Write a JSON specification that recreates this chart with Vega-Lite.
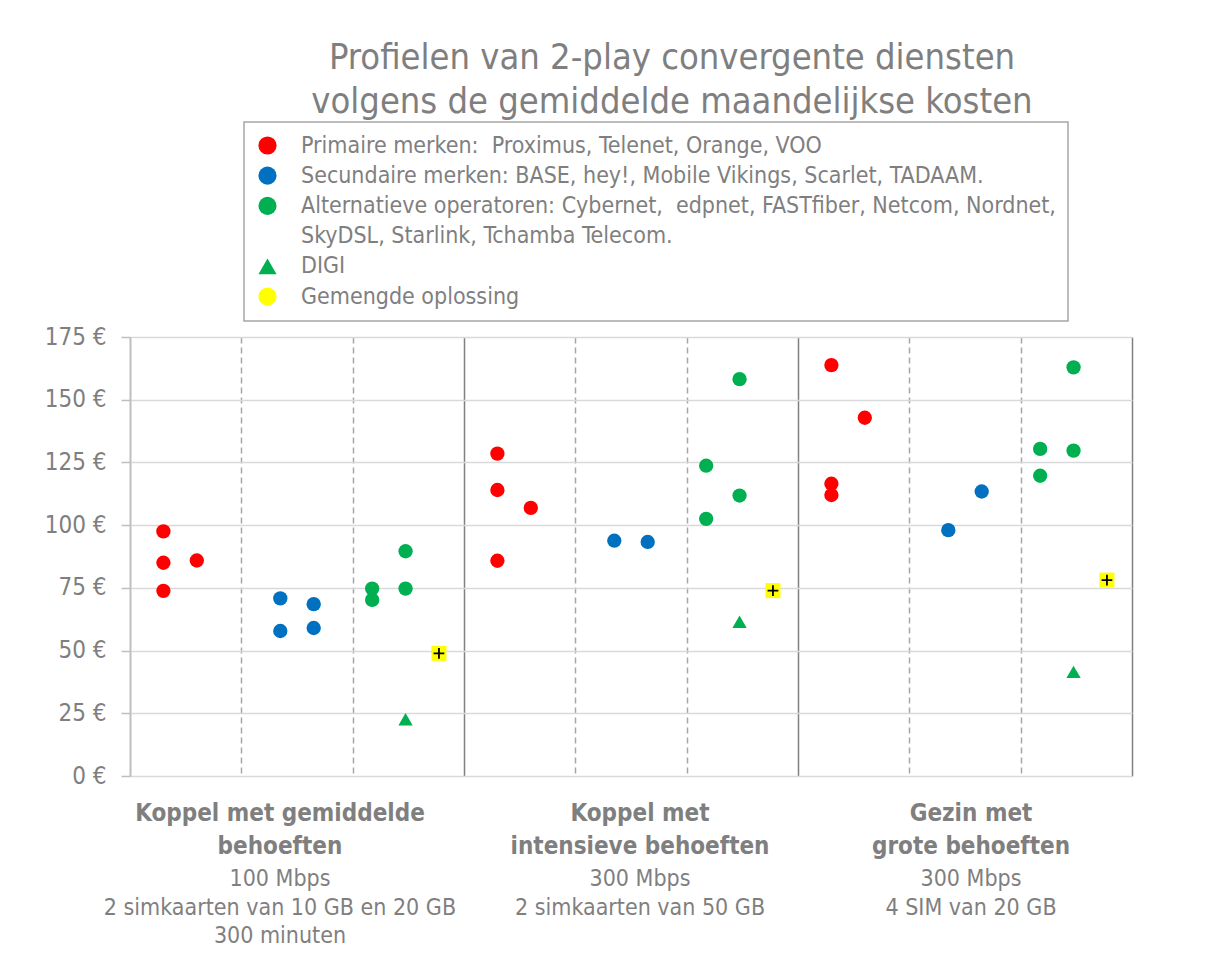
{
  "$schema": "https://vega.github.io/schema/vega-lite/v6.json",
  "width": 1002,
  "height": 439,
  "autosize": {"type": "none"},
  "padding": {"left": 130, "top": 337, "right": 80, "bottom": 182},
  "background": "white",
  "title": {
    "text": ["Profielen van 2-play convergente diensten", "volgens de gemiddelde maandelijkse kosten"],
    "fontSize": 36,
    "fontWeight": "normal",
    "color": "#7f7f7f",
    "lineHeight": 44,
    "anchor": "middle",
    "dx": 41,
    "offset": 0
  },
  "config": {
    "font": "DejaVu Sans Condensed, DejaVu Sans",
    "view": {"stroke": null},
    "legend": {"strokeWidth": 1.5}
  },
  "datasets": {
    "points": [
      {"profiel": "Koppel met gemiddelde behoeften", "x": 1, "kost": 97.5, "groep": "P"},
      {"profiel": "Koppel met gemiddelde behoeften", "x": 1, "kost": 85.0, "groep": "P"},
      {"profiel": "Koppel met gemiddelde behoeften", "x": 1, "kost": 73.8, "groep": "P"},
      {"profiel": "Koppel met gemiddelde behoeften", "x": 2, "kost": 85.9, "groep": "P"},
      {"profiel": "Koppel met gemiddelde behoeften", "x": 4.5, "kost": 70.8, "groep": "S"},
      {"profiel": "Koppel met gemiddelde behoeften", "x": 4.5, "kost": 57.8, "groep": "S"},
      {"profiel": "Koppel met gemiddelde behoeften", "x": 5.5, "kost": 68.5, "groep": "S"},
      {"profiel": "Koppel met gemiddelde behoeften", "x": 5.5, "kost": 59.0, "groep": "S"},
      {"profiel": "Koppel met gemiddelde behoeften", "x": 7.25, "kost": 74.7, "groep": "A"},
      {"profiel": "Koppel met gemiddelde behoeften", "x": 7.25, "kost": 70.2, "groep": "A"},
      {"profiel": "Koppel met gemiddelde behoeften", "x": 8.25, "kost": 89.6, "groep": "A"},
      {"profiel": "Koppel met gemiddelde behoeften", "x": 8.25, "kost": 74.7, "groep": "A"},
      {"profiel": "Koppel met gemiddelde behoeften", "x": 8.25, "kost": 22.6, "groep": "D"},
      {"profiel": "Koppel met gemiddelde behoeften", "x": 9.25, "kost": 48.9, "groep": "G"},
      {"profiel": "Koppel met intensieve behoeften", "x": 11, "kost": 128.5, "groep": "P"},
      {"profiel": "Koppel met intensieve behoeften", "x": 11, "kost": 114.0, "groep": "P"},
      {"profiel": "Koppel met intensieve behoeften", "x": 11, "kost": 85.8, "groep": "P"},
      {"profiel": "Koppel met intensieve behoeften", "x": 12, "kost": 106.9, "groep": "P"},
      {"profiel": "Koppel met intensieve behoeften", "x": 14.5, "kost": 93.8, "groep": "S"},
      {"profiel": "Koppel met intensieve behoeften", "x": 15.5, "kost": 93.3, "groep": "S"},
      {"profiel": "Koppel met intensieve behoeften", "x": 17.25, "kost": 123.7, "groep": "A"},
      {"profiel": "Koppel met intensieve behoeften", "x": 17.25, "kost": 102.5, "groep": "A"},
      {"profiel": "Koppel met intensieve behoeften", "x": 18.25, "kost": 158.2, "groep": "A"},
      {"profiel": "Koppel met intensieve behoeften", "x": 18.25, "kost": 111.8, "groep": "A"},
      {"profiel": "Koppel met intensieve behoeften", "x": 18.25, "kost": 61.5, "groep": "D"},
      {"profiel": "Koppel met intensieve behoeften", "x": 19.25, "kost": 73.9, "groep": "G"},
      {"profiel": "Gezin met grote behoeften", "x": 21, "kost": 163.8, "groep": "P"},
      {"profiel": "Gezin met grote behoeften", "x": 21, "kost": 116.5, "groep": "P"},
      {"profiel": "Gezin met grote behoeften", "x": 21, "kost": 112.0, "groep": "P"},
      {"profiel": "Gezin met grote behoeften", "x": 22, "kost": 142.8, "groep": "P"},
      {"profiel": "Gezin met grote behoeften", "x": 24.5, "kost": 98.0, "groep": "S"},
      {"profiel": "Gezin met grote behoeften", "x": 25.5, "kost": 113.4, "groep": "S"},
      {"profiel": "Gezin met grote behoeften", "x": 27.25, "kost": 130.4, "groep": "A"},
      {"profiel": "Gezin met grote behoeften", "x": 27.25, "kost": 119.7, "groep": "A"},
      {"profiel": "Gezin met grote behoeften", "x": 28.25, "kost": 162.9, "groep": "A"},
      {"profiel": "Gezin met grote behoeften", "x": 28.25, "kost": 129.7, "groep": "A"},
      {"profiel": "Gezin met grote behoeften", "x": 28.25, "kost": 41.5, "groep": "D"},
      {"profiel": "Gezin met grote behoeften", "x": 29.25, "kost": 78.1, "groep": "G"}
    ],
    "profielen": [
      {"x": 4.49, "kop": "Koppel met gemiddelde\nbehoeften", "spec": "100 Mbps\n2 simkaarten van 10 GB en 20 GB\n300 minuten"},
      {"x": 15.27, "kop": "Koppel met\nintensieve behoeften", "spec": "300 Mbps\n2 simkaarten van 50 GB"},
      {"x": 25.18, "kop": "Gezin met\ngrote behoeften", "spec": "300 Mbps\n4 SIM van 20 GB"}
    ]
  },
  "layer": [
    {
      "data": {"name": "points"},
      "mark": {"type": "point", "filled": true, "size": 205, "opacity": 1, "strokeWidth": 0},
      "encoding": {
        "x": {
          "field": "x", "type": "quantitative",
          "scale": {"domain": [0, 30], "nice": false, "zero": false},
          "axis": {
            "title": null, "labels": false, "ticks": false, "domain": false,
            "values": [0, 3.3333, 6.6667, 10, 13.3333, 16.6667, 20, 23.3333, 26.6667, 30],
            "grid": true,
            "gridColor": {"condition": {"test": "indexof([10, 20, 30], datum.value) >= 0", "value": "#808080"}, "value": "#a6a6a6"},
            "gridDash": {"condition": {"test": "indexof([0, 10, 20, 30], datum.value) >= 0", "value": []}, "value": [6, 4]},
            "gridWidth": 1.5
          }
        },
        "y": {
          "field": "kost", "type": "quantitative",
          "scale": {"domain": [0, 175], "nice": false},
          "axis": {
            "title": null,
            "values": [0, 25, 50, 75, 100, 125, 150, 175],
            "labelExpr": "datum.value + ' €'",
            "labelFontSize": 24,
            "labelColor": "#7f7f7f",
            "labelPadding": 15,
            "tickSize": 9,
            "tickColor": "#bfbfbf",
            "tickWidth": 1.5,
            "domainColor": "#bfbfbf",
            "domainWidth": 1.5,
            "gridColor": "#d9d9d9",
            "gridWidth": 1.5
          }
        },
        "color": {
          "field": "groep", "type": "nominal",
          "scale": {
            "domain": ["P", "S", "A", "A2", "D", "G"],
            "range": ["#ff0000", "#0070c0", "#00b050", "transparent", "#00b050", "#ffff00"]
          },
          "legend": {
            "title": null, "orient": "none", "legendX": 114, "legendY": -215,
            "padding": 12, "strokeColor": "#a6a6a6", "fillColor": "white",
            "labelFontSize": 23, "labelColor": "#7f7f7f", "labelLimit": 1200,
            "labelExpr": "datum.label === 'P' ? 'Primaire merken:\u00a0 Proximus, Telenet, Orange, VOO' : datum.label === 'S' ? 'Secundaire merken: BASE, hey!, Mobile Vikings, Scarlet, TADAAM.' : datum.label === 'A' ? 'Alternatieve operatoren: Cybernet,\u00a0 edpnet, FASTfiber, Netcom, Nordnet,' : datum.label === 'A2' ? 'SkyDSL, Starlink, Tchamba Telecom.' : datum.label === 'D' ? 'DIGI' : 'Gemengde oplossing'",
            "symbolSize": 330, "rowPadding": 6.2, "labelOffset": 22, "symbolStrokeWidth": 0
          }
        },
        "shape": {
          "field": "groep", "type": "nominal",
          "scale": {
            "domain": ["P", "S", "A", "A2", "D", "G"],
            "range": ["circle", "circle", "circle", "circle", "triangle-up", "circle"]
          },
          "legend": {
            "title": null, "orient": "none", "legendX": 114, "legendY": -215,
            "padding": 12, "strokeColor": "#a6a6a6", "fillColor": "white",
            "labelFontSize": 23, "labelColor": "#7f7f7f", "labelLimit": 1200,
            "labelExpr": "datum.label === 'P' ? 'Primaire merken:\u00a0 Proximus, Telenet, Orange, VOO' : datum.label === 'S' ? 'Secundaire merken: BASE, hey!, Mobile Vikings, Scarlet, TADAAM.' : datum.label === 'A' ? 'Alternatieve operatoren: Cybernet,\u00a0 edpnet, FASTfiber, Netcom, Nordnet,' : datum.label === 'A2' ? 'SkyDSL, Starlink, Tchamba Telecom.' : datum.label === 'D' ? 'DIGI' : 'Gemengde oplossing'",
            "symbolSize": 330, "rowPadding": 6.2, "labelOffset": 22, "symbolStrokeWidth": 0
          }
        }
      }
    },
    {
      "data": {"name": "points"},
      "transform": [{"filter": "datum.groep === 'G'"}],
      "mark": {"type": "square", "filled": true, "color": "#ffff00", "size": 225, "opacity": 1},
      "encoding": {
        "x": {"field": "x", "type": "quantitative"},
        "y": {"field": "kost", "type": "quantitative"}
      }
    },
    {
      "data": {"name": "points"},
      "transform": [{"filter": "datum.groep === 'G'"}],
      "mark": {"type": "point", "shape": "M-1,0L1,0M0,-1L0,1", "filled": false, "stroke": "black", "strokeWidth": 1.8, "size": 115, "opacity": 1},
      "encoding": {
        "x": {"field": "x", "type": "quantitative"},
        "y": {"field": "kost", "type": "quantitative"}
      }
    },
    {
      "data": {"name": "profielen"},
      "mark": {"type": "text", "lineBreak": "\n", "fontWeight": "bold", "fontSize": 24, "color": "#7f7f7f", "align": "center", "baseline": "alphabetic", "lineHeight": 33, "dy": 45},
      "encoding": {
        "x": {"field": "x", "type": "quantitative"},
        "y": {"datum": 0},
        "text": {"field": "kop"}
      }
    },
    {
      "data": {"name": "profielen"},
      "mark": {"type": "text", "lineBreak": "\n", "fontSize": 23, "color": "#7f7f7f", "align": "center", "baseline": "alphabetic", "lineHeight": 28.5, "dy": 110},
      "encoding": {
        "x": {"field": "x", "type": "quantitative"},
        "y": {"datum": 0},
        "text": {"field": "spec"}
      }
    }
  ]
}
